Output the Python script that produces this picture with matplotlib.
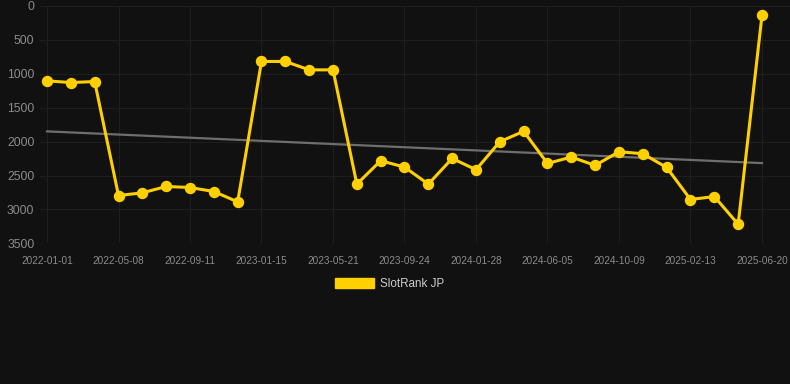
import matplotlib.pyplot as plt
from matplotlib.patches import Patch

# Data (rank, lower is better)
tick_dates = ['2022-01-01', '2022-05-08', '2022-09-11', '2023-01-15', '2023-05-21', '2023-09-24',
              '2024-01-28', '2024-06-05', '2024-10-09', '2025-02-13', '2025-06-20']
ranks = [1104, 1129, 1114, 2795, 2756, 2662, 2677, 2736, 2889, 818,
         818, 942, 942, 2627, 2282, 2376, 2627, 2248, 2415, 2001,
         1849, 2322, 2228, 2351, 2149, 2179, 2381, 2854, 2810, 3219,
         138]
trend_start = 1849
trend_end = 2317

bg = '#111111'
yellow = '#FFD000'
grey_text = '#8c8c8c'

plt.rcParams['font.family'] = ['Liberation Sans', 'DejaVu Sans']

fig = plt.figure(figsize=(7.9, 3.84), dpi=100, facecolor=bg)
ax = fig.add_axes([40 / 790, 1 - 243.3 / 384, 750 / 790, (243.3 - 6) / 384])
ax.set_facecolor(bg)

x = list(range(len(ranks)))

#trend line
ax.plot([x[0], x[-1]], [trend_start, trend_end], color='#6e6e6e', lw=1.6, zorder=2)

#rank line
ax.plot(x, ranks, color=yellow, lw=2.2, marker='o', markersize=7.2, zorder=3)

ax.set_ylim(3500, 0)
ax.set_xlim(-7 / 23.83, 30 + 28 / 23.83)
ax.set_yticks(range(0, 3501, 500))
ax.set_xticks(x[::3])
ax.set_xticklabels(tick_dates)

ax.grid(True, color='#1f1f1f', lw=0.7)
ax.set_axisbelow(True)
for s in ax.spines.values():
    s.set_visible(False)

ax.tick_params(axis='y', length=0, pad=4, labelsize=8.8, labelcolor=grey_text)
ax.tick_params(axis='x', length=0, pad=9, labelsize=7.2, labelcolor=grey_text)

fig.legend(handles=[Patch(color=yellow)], labels=['SlotRank JP'],
           loc='center', bbox_to_anchor=(389.5 / 790, 1 - 284 / 384),
           frameon=False, fontsize=8.4, labelcolor='#cccccc',
           handlelength=3.4, handleheight=0.95, handletextpad=0.5)

fig.savefig('out.png', dpi=100, facecolor=bg)
